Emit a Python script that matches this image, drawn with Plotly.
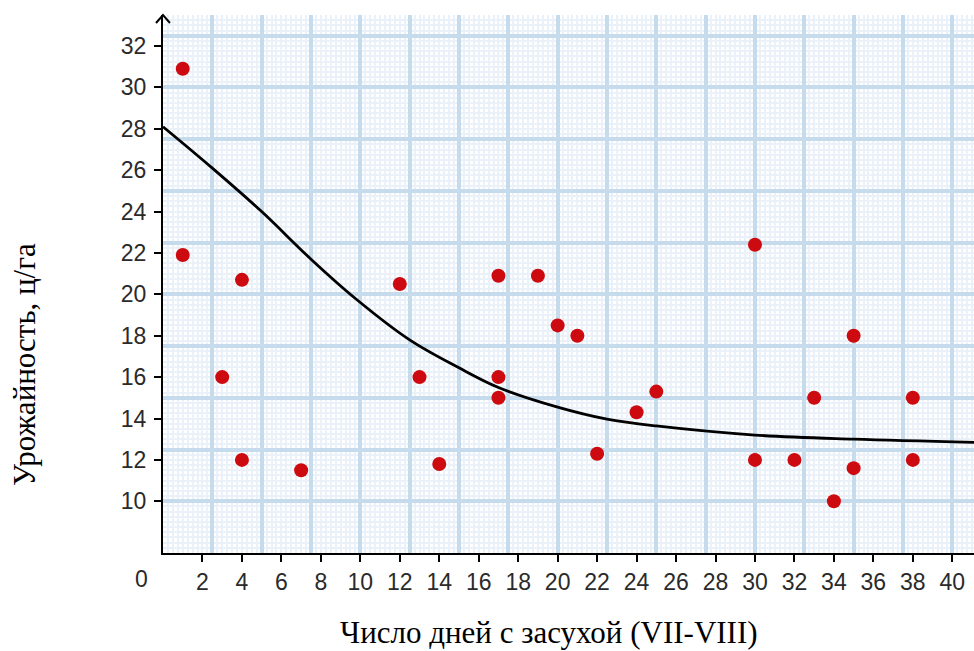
import plotly.graph_objects as go

# Observed points: drought days (VII-VIII) vs yield, c/ha
days = [1, 1, 3, 4, 4, 7, 12, 13, 14, 17, 17, 17, 19, 20, 21, 22, 24, 25,
        30, 30, 32, 33, 34, 35, 35, 38, 38]
yield_ = [30.9, 21.9, 16.0, 20.7, 12.0, 11.5, 20.5, 16.0, 11.8, 20.9, 16.0, 15.0,
          20.9, 18.5, 18.0, 12.3, 14.3, 15.3, 22.4, 12.0, 12.0, 15.0, 10.0, 18.0,
          11.6, 15.0, 12.0]

# Trend curve
curve_x = [0, 2.5, 5, 7.5, 9.75, 12.5, 15, 17, 20, 22.5, 25, 30, 35, 41.1]
curve_y = [28.1, 26.1, 24.0, 21.7, 19.8, 17.8, 16.45, 15.5, 14.55, 13.97, 13.64,
           13.2, 13.0, 12.85]

x_ticks = list(range(2, 41, 2))
y_ticks = list(range(10, 33, 2))

X_RANGE = [0, 41.1]
Y_RANGE = [7.5, 33.5]

fig = go.Figure()

# empty trace so the graph-paper axes (x, y) are drawn
fig.add_trace(go.Scatter(x=[], y=[], xaxis="x", yaxis="y", showlegend=False,
                         hoverinfo="skip"))
fig.add_trace(go.Scatter(x=curve_x, y=curve_y, mode="lines",
                         line=dict(color="black", width=2.8, shape="spline", smoothing=1.0),
                         xaxis="x2", yaxis="y2", hoverinfo="skip", showlegend=False))
fig.add_trace(go.Scatter(x=days, y=yield_, mode="markers",
                         marker=dict(color="#cc0a0f", size=14, line=dict(width=0)),
                         xaxis="x2", yaxis="y2", showlegend=False, cliponaxis=False))

tickfont = dict(family="Liberation Sans, Arial, sans-serif", size=23, color="#2a2a2a")
titlefont = dict(family="Liberation Serif, Times New Roman, serif", size=31, color="black")

fig.update_layout(
    width=974, height=651,
    margin=dict(l=163, r=0, t=15, b=98),
    paper_bgcolor="white", plot_bgcolor="white",
    xaxis=dict(range=X_RANGE, showgrid=True, gridcolor="#c6dbeb", gridwidth=4,
               tick0=0, dtick=2.5, showticklabels=False, ticks="", zeroline=False,
               showline=False,
               minor=dict(showgrid=True, dtick=0.25, gridcolor="#eaf1f8", gridwidth=1.5)),
    yaxis=dict(range=Y_RANGE, showgrid=True, gridcolor="#c6dbeb", gridwidth=4,
               tick0=0, dtick=2.5, showticklabels=False, ticks="", zeroline=False,
               showline=False,
               minor=dict(showgrid=True, dtick=0.25, gridcolor="#eaf1f8", gridwidth=1.5)),
    xaxis2=dict(range=X_RANGE, overlaying="x", side="bottom", anchor="y2",
                showgrid=False, zeroline=False, tickvals=x_ticks,
                ticktext=[str(v) for v in x_ticks],
                ticks="outside", ticklen=7, tickwidth=2, tickcolor="black",
                showline=True, linecolor="black", linewidth=2,
                tickfont=tickfont),
    yaxis2=dict(range=Y_RANGE, overlaying="y", side="left", anchor="x2",
                showgrid=False, zeroline=False, tickvals=y_ticks,
                ticktext=[str(v) for v in y_ticks],
                ticks="outside", ticklen=7, tickwidth=2, tickcolor="black",
                showline=True, linecolor="black", linewidth=2,
                tickfont=tickfont, ticklabelstandoff=3),
    annotations=[
        dict(text="0", xref="x2", yref="paper", x=0, y=0, xshift=-22, yshift=-26,
             showarrow=False, xanchor="center", yanchor="middle", font=tickfont),
        dict(text="Число дней с засухой (VII-VIII)", xref="paper", yref="paper",
             x=(549 - 163) / 811, y=0, yshift=-79, showarrow=False,
             xanchor="center", yanchor="middle", font=titlefont),
        dict(text="Урожайность, ц/га", xref="paper", yref="paper",
             x=0, xshift=-139, y=(651 - 98 - 365) / 538, textangle=-90,
             showarrow=False, xanchor="center", yanchor="middle", font=titlefont),
    ],
    shapes=[
        dict(type="path", xref="paper", yref="paper", xsizemode="pixel", ysizemode="pixel",
             xanchor=0, yanchor=1, path="M-7,-8 L0,0 L7,-8",
             line=dict(color="black", width=2)),
    ],
)

fig.write_html("out.html", config={"displayModeBar": False},
               post_script="document.body.style.margin='0px';")
